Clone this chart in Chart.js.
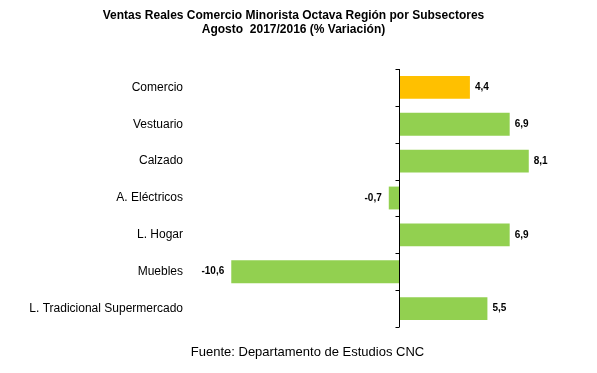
<!DOCTYPE html>
<html>
<head>
<meta charset="utf-8">
<script src="https://cdn.jsdelivr.net/npm/chart.js@4"></script>
<style>
  html, body { margin: 0; padding: 0; background: #fff; }
  #wrap { position: relative; width: 597px; height: 373px; }
  #footer { position: absolute; left: 0; width: 615px; top: 344px; text-align: center;
            font: 13px "Liberation Sans", Arial, sans-serif; color: #000; }
</style>
</head>
<body>
<div id="wrap">
  <canvas id="c" width="597" height="373"></canvas>
  <div id="footer">Fuente: Departamento de Estudios CNC</div>
</div>
<script>
const categories = ["Comercio", "Vestuario", "Calzado", "A. Eléctricos", "L. Hogar", "Muebles", "L. Tradicional Supermercado"];
const variation = [4.4, 6.9, 8.1, -0.7, 6.9, -10.6, 5.5];
const barColors = ["#FFC000", "#92D050", "#92D050", "#92D050", "#92D050", "#92D050", "#92D050"];
const titleLines = ["Ventas Reales Comercio Minorista Octava Región por Subsectores", "Agosto  2017/2016 (% Variación)"];

// axis line at value 0 with outer tick marks at category boundaries
const zeroAxis = {
  id: 'zeroAxis',
  afterDatasetsDraw(chart) {
    const ctx = chart.ctx;
    const xs = chart.scales.x, ys = chart.scales.y;
    const x0 = Math.round(xs.getPixelForValue(0)) - 0.5;
    const n = categories.length;
    const band = (ys.getPixelForValue(n - 1) - ys.getPixelForValue(0)) / (n - 1);
    ctx.save();
    ctx.strokeStyle = '#000';
    ctx.lineWidth = 1;
    ctx.beginPath();
    const top = ys.getPixelForValue(0) - band / 2;
    const bottom = ys.getPixelForValue(n - 1) + band / 2;
    ctx.moveTo(x0, top);
    ctx.lineTo(x0, bottom);
    for (let i = 0; i <= n; i++) {
      const yy = Math.round(ys.getPixelForValue(0) - band / 2 + i * band) + 0.5;
      ctx.moveTo(x0, yy);
      ctx.lineTo(x0 - 4, yy);
    }
    ctx.stroke();
    ctx.restore();
  }
};

const valueLabels = {
  id: 'valueLabels',
  afterDatasetsDraw(chart) {
    const ctx = chart.ctx;
    const meta = chart.getDatasetMeta(0);
    ctx.save();
    ctx.font = 'bold 10px "Liberation Sans", Arial, sans-serif';
    ctx.fillStyle = '#000';
    ctx.textBaseline = 'middle';
    meta.data.forEach((bar, i) => {
      const v = variation[i];
      const txt = v.toFixed(1).replace('.', ',');
      if (v >= 0) {
        ctx.textAlign = 'left';
        ctx.fillText(txt, bar.x + 5, bar.y);
      } else {
        ctx.textAlign = 'right';
        ctx.fillText(txt, bar.x - 7, bar.y);
      }
    });
    ctx.restore();
  }
};

new Chart(document.getElementById('c'), {
  type: 'bar',
  data: {
    labels: categories,
    datasets: [{
      data: variation,
      backgroundColor: barColors,
      borderWidth: 0,
      barPercentage: 0.62,
      categoryPercentage: 1.0
    }]
  },
  options: {
    indexAxis: 'y',
    responsive: false,
    animation: false,
    layout: { padding: { left: 28, right: 38, top: 0, bottom: 46 } },
    plugins: {
      legend: { display: false },
      tooltip: { enabled: false },
      title: {
        display: true,
        text: titleLines,
        color: '#000',
        font: { family: '"Liberation Sans", Arial, sans-serif', size: 12, weight: 'bold', lineHeight: 1.1 },
        padding: { top: 9.4, bottom: 33.2 }
      }
    },
    scales: {
      x: {
        type: 'linear',
        display: false,
        min: -12,
        max: 10
      },
      y: {
        type: 'category',
        position: 'left',
        offset: true,
        grid: { display: false, drawTicks: false },
        border: { display: false },
        ticks: {
          color: '#000',
          padding: 26,
          font: { family: '"Liberation Sans", Arial, sans-serif', size: 12 }
        },
        afterFit(scale) { scale.width = 181; }
      }
    }
  },
  plugins: [zeroAxis, valueLabels]
});
</script>
</body>
</html>
